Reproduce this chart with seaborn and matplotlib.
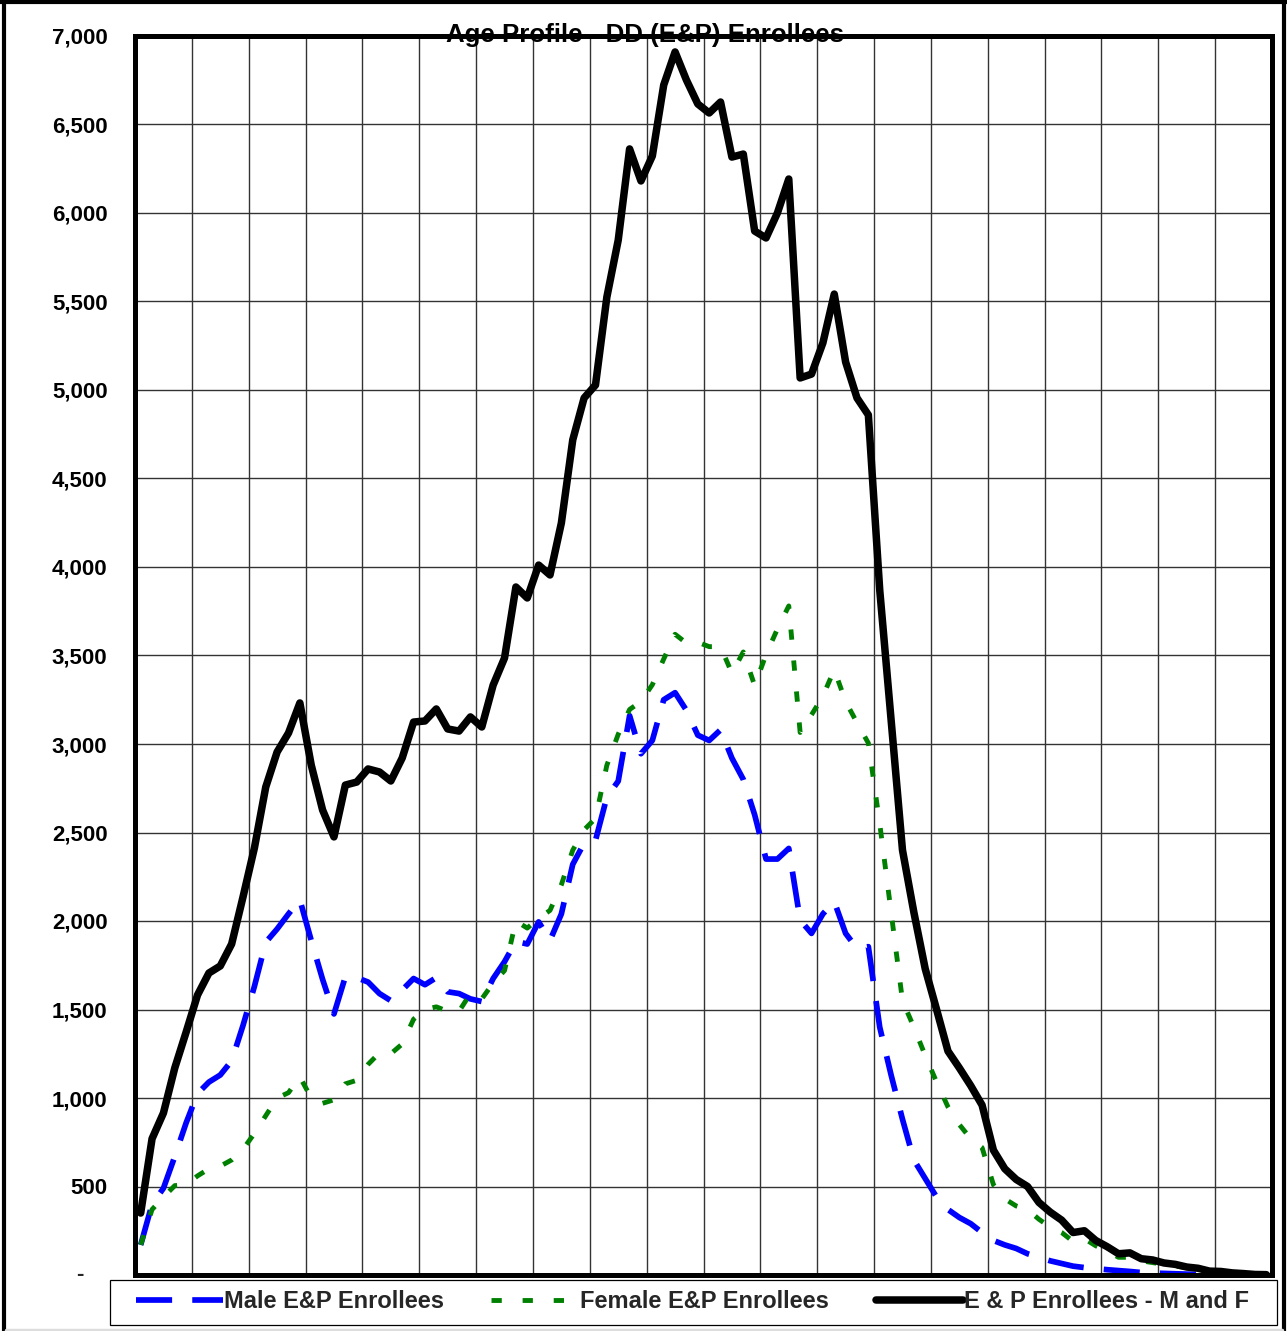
import numpy as np
import pandas as pd
import matplotlib
matplotlib.use("Agg")
import matplotlib.pyplot as plt
import seaborn as sns
from matplotlib.patches import Rectangle
from matplotlib.lines import Line2D
from matplotlib.ticker import FuncFormatter, FixedLocator

# ---------------- data ----------------
age = np.arange(100)  # age categories 0..99

male = [170, 400, 490, 670, 860, 1025, 1090, 1130, 1210, 1410,
        1630, 1880, 1955, 2040, 2120, 1890, 1670, 1475, 1685, 1680,
        1655, 1590, 1550, 1610, 1675, 1640, 1680, 1600, 1590, 1560,
        1545, 1675, 1770, 1885, 1870, 1995, 1890, 2040, 2320, 2440,
        2455, 2700, 2790, 3160, 2945, 3020, 3250, 3290, 3190, 3050,
        3020, 3080, 2920, 2800, 2600, 2350, 2350, 2410, 2005, 1930,
        2040, 2110, 1930, 1845, 1855, 1400, 1130, 880, 650, 545,
        440, 370, 325, 290, 240, 195, 170, 150, 120, 100,
        80, 65, 50, 42, 36, 30, 25, 20, 14, 11,
        9, 7, 5, 4, 3, 2, 1, 1, 0, 0]

female = [170, 370, 440, 505, 510, 560, 600, 615, 650, 710,
          800, 900, 1000, 1030, 1120, 1000, 970, 990, 1080, 1100,
          1190, 1255, 1250, 1305, 1445, 1500, 1515, 1490, 1490, 1590,
          1560, 1650, 1720, 2000, 1960, 2015, 2060, 2205, 2400, 2515,
          2580, 2880, 3055, 3195, 3240, 3335, 3480, 3620, 3570, 3575,
          3550, 3550, 3400, 3520, 3330, 3505, 3650, 3780, 3065, 3165,
          3270, 3420, 3240, 3120, 3005, 2550, 2050, 1550, 1400, 1240,
          1090, 950, 850, 770, 720, 510, 430, 390, 370, 315,
          270, 240, 190, 205, 165, 135, 100, 100, 80, 70,
          60, 50, 42, 35, 25, 20, 12, 8, 5, 3]

total = [350, 770, 915, 1170, 1373, 1582, 1706, 1746, 1870, 2136,
         2412, 2757, 2955, 3062, 3232, 2881, 2627, 2475, 2768, 2785,
         2859, 2842, 2791, 2921, 3124, 3130, 3198, 3085, 3073, 3153,
         3096, 3333, 3486, 3887, 3825, 4011, 3955, 4249, 4718, 4955,
         5028, 5525, 5847, 6362, 6181, 6322, 6723, 6910, 6751, 6616,
         6565, 6627, 6316, 6333, 5898, 5859, 6000, 6192, 5068, 5090,
         5266, 5542, 5158, 4955, 4859, 3870, 3136, 2401, 2050, 1730,
         1500, 1265, 1170, 1070, 960, 705, 600, 540, 500, 410,
         355, 310, 240, 250, 195, 160, 120, 125, 92, 85,
         68, 60, 45, 38, 22, 20, 12, 8, 3, 2]

series_labels = ["Male E&P Enrollees", "Female E&P Enrollees", "E & P Enrollees - M and F"]
title_text = "Age Profile - DD (E&P) Enrollees"
y_ticks = list(range(0, 7001, 500))

# ---------------- styling ----------------
sns.set_theme(style="white")
plt.rcParams['font.family'] = ['Liberation Sans', 'DejaVu Sans']
plt.rcParams['font.weight'] = 'bold'

W, H = 1287, 1331
fig = plt.figure(figsize=(W / 100, H / 100), dpi=100)
fig.patch.set_facecolor("white")
ax = fig.add_axes([135 / W, 1 - 1275 / H, (1272 - 135) / W, (1275 - 36) / H])
ax.set_facecolor("white")

df = pd.DataFrame({"age": age, "male": male, "female": female, "total": total})

BLUE, GREEN, BLACK = "#0000FF", "#008000", "#000000"
LW_M, LW_F, LW_T = 4.1, 3.5, 5.4
male_dash = (26.0 / LW_M, 14.5 / LW_M)
female_dash = (7.4 / LW_F, 15.0 / LW_F)

sns.lineplot(data=df, x="age", y="male", ax=ax, color=BLUE, linewidth=LW_M, zorder=3)
ax.lines[-1].set_dashes(male_dash)
sns.lineplot(data=df, x="age", y="female", ax=ax, color=GREEN, linewidth=LW_F, zorder=4)
ax.lines[-1].set_dashes(female_dash)
sns.lineplot(data=df, x="age", y="total", ax=ax, color=BLACK, linewidth=LW_T, zorder=5)
ax.lines[-1].set_solid_joinstyle("round")

ax.set_xlim(-0.5, 99.5)
ax.set_ylim(0, 7000)
ax.set_xlabel("")
ax.set_ylabel("")

ax.xaxis.set_major_locator(FixedLocator(np.arange(4.5, 99, 5)))
ax.set_xticklabels([])
ax.tick_params(axis="x", length=0)
ax.yaxis.set_major_locator(FixedLocator(y_ticks))
ax.yaxis.set_major_formatter(FuncFormatter(lambda v, p: "" if v == 0 else f"{int(v):,}"))
ax.tick_params(axis="y", direction="out", length=5.8, width=1, color="black",
               pad=14, labelsize=16, labelcolor="black")
for lab in ax.get_yticklabels():
    lab.set_fontweight("bold")

ax.grid(True, which="major", axis="both", color="#333333", linewidth=1.0, zorder=1)
ax.set_axisbelow(True)

for s in ax.spines.values():
    s.set_visible(True)
    s.set_color("black")
    s.set_linewidth(3.6)
    s.set_zorder(6)

# zero label as dash (accounting style)
ax.annotate("-", xy=(0, 0), xycoords=("axes fraction", "data"),
            xytext=(-55 * 0.72, 0), textcoords="offset points",
            ha="center", va="center", fontsize=16, fontweight="bold")

# title (centered on the figure, over the top frame)
fig.text(645 / W, 1 - 42 / H, title_text, ha="center", va="baseline",
         fontsize=18.6, fontweight="bold", color="black", zorder=20)

# legend
handles = [
    Line2D([0], [0], color=BLUE, lw=LW_M, dashes=male_dash),
    Line2D([0], [0], color=GREEN, lw=LW_F, dashes=female_dash),
    Line2D([0], [0], color=BLACK, lw=LW_T),
]
leg = fig.legend(handles, series_labels, loc="center",
                 bbox_to_anchor=(692.5 / W, 1 - 1302 / H), ncol=3, frameon=False,
                 fontsize=17, handlelength=3.69, handletextpad=0.06, columnspacing=2.0,
                 borderpad=0.2)
for t in leg.get_texts():
    t.set_fontweight("bold")

fig.add_artist(Rectangle((110 / W, 1 - 1325 / H), (1277 - 110) / W, (1325 - 1280) / H,
                         transform=fig.transFigure, fill=False, edgecolor="black", lw=0.9))

# figure border
fig.add_artist(Line2D([4 / W, 4 / W], [0, 1], transform=fig.transFigure, color="black", lw=3))
fig.add_artist(Line2D([1284 / W, 1284 / W], [0, 1], transform=fig.transFigure, color="black", lw=3))
fig.add_artist(Line2D([0, 1], [1 - 2 / H, 1 - 2 / H], transform=fig.transFigure, color="black", lw=3))
fig.add_artist(Line2D([6 / W, 1282 / W], [1 - 1329.5 / H, 1 - 1329.5 / H], transform=fig.transFigure,
                      color="#dddddd", lw=2.5))

fig.savefig("out.png", dpi=100, facecolor="white")
